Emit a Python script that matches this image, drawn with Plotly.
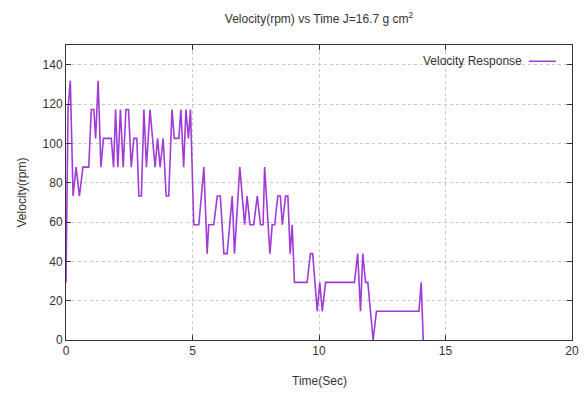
import plotly.graph_objects as go

time_s = [0.00, 0.08, 0.17, 0.28, 0.40, 0.53, 0.67, 0.90, 1.00, 1.10,
          1.17, 1.27, 1.38, 1.48, 1.79, 1.88, 1.96, 2.05, 2.15, 2.26,
          2.37, 2.47, 2.58, 2.68, 2.80, 2.88, 2.98, 3.08, 3.18, 3.32,
          3.52, 3.62, 3.72, 3.84, 3.96, 4.06, 4.19, 4.28, 4.46, 4.54,
          4.65, 4.74, 4.84, 4.92, 5.05, 5.25, 5.45, 5.58, 5.64, 5.84,
          5.98, 6.10, 6.24, 6.37, 6.57, 6.66, 6.87, 7.06, 7.16, 7.27,
          7.42, 7.56, 7.69, 7.79, 7.85, 8.06, 8.15, 8.25, 8.37, 8.47,
          8.55, 8.68, 8.77, 8.86, 8.94, 9.03, 9.53, 9.66, 9.75, 9.93,
          10.03, 10.13, 10.26, 11.40, 11.53, 11.64, 11.73, 11.84, 11.93, 12.14,
          12.27, 13.95, 14.04, 14.12]
velocity_rpm = [29.3, 117.2, 131.8, 73.2, 87.9, 73.2, 87.9, 87.9, 117.2, 117.2,
                102.5, 131.8, 87.9, 102.5, 102.5, 87.9, 117.2, 87.9, 117.2, 87.9,
                117.2, 117.2, 87.9, 102.5, 102.5, 73.2, 73.2, 117.2, 87.9, 117.2,
                87.9, 102.5, 87.9, 102.5, 73.2, 73.2, 117.2, 102.5, 102.5, 117.2,
                87.9, 117.2, 102.5, 117.2, 58.6, 58.6, 87.9, 43.9, 58.6, 58.6,
                73.2, 73.2, 43.9, 43.9, 73.2, 43.9, 87.9, 58.6, 73.2, 58.6,
                58.6, 73.2, 58.6, 58.6, 87.9, 43.9, 58.6, 58.6, 73.2, 73.2,
                58.6, 73.2, 73.2, 43.9, 58.6, 29.3, 29.3, 43.9, 43.9, 14.6,
                29.3, 14.6, 29.3, 29.3, 43.9, 14.6, 43.9, 29.3, 29.3, 0.0,
                14.6, 14.6, 29.3, 0.0]

x_ticks = [0, 5, 10, 15, 20]
y_ticks = [0, 20, 40, 60, 80, 100, 120, 140]

LINE_COLOR = "#a03cd6"
FONT = "Liberation Sans"
TEXT_COLOR = "#333333"

fig = go.Figure()
fig.add_trace(go.Scatter(x=time_s, y=velocity_rpm, mode="lines",
                         line=dict(color=LINE_COLOR, width=1.6),
                         name="Velocity Response", showlegend=False))

axis_common = dict(showline=True, linecolor="#333333", linewidth=1, mirror="ticks",
                   ticks="inside", ticklen=5, tickcolor="#333333",
                   showgrid=True, gridcolor="#c8c8c8", griddash="dot", gridwidth=1,
                   zeroline=False, automargin=False,
                   tickfont=dict(family=FONT, size=12, color=TEXT_COLOR))

fig.update_xaxes(range=[0, 20], tickvals=x_ticks, ticktext=[str(v) for v in x_ticks], **axis_common)
fig.update_yaxes(range=[0, 150], tickvals=y_ticks, ticktext=[str(v) for v in y_ticks], **axis_common)

fig.update_layout(
    width=584, height=394,
    margin=dict(l=66, r=12, t=45, b=54),
    paper_bgcolor="white", plot_bgcolor="white",
    title=dict(text="Velocity(rpm) vs Time J=16.7 g cm<sup>2</sup>",
               font=dict(family=FONT, size=12, color=TEXT_COLOR),
               x=0.5, xref="paper", xanchor="center", y=0.952, yanchor="middle"),
)

# axis titles placed like the gnuplot original
fig.add_annotation(text="Time(Sec)", xref="paper", yref="paper", x=0.5, y=-0.139,
                   xanchor="center", yanchor="middle", showarrow=False,
                   font=dict(family=FONT, size=12, color=TEXT_COLOR))
fig.add_annotation(text="Velocity(rpm)", xref="paper", yref="paper", x=-0.087, y=0.5,
                   xanchor="center", yanchor="middle", textangle=-90, showarrow=False,
                   font=dict(family=FONT, size=12, color=TEXT_COLOR))

# gnuplot-style key: label followed by line sample
fig.add_annotation(text="Velocity Response", xref="paper", yref="paper",
                   x=0.905, y=0.945, xanchor="right", yanchor="middle", showarrow=False,
                   font=dict(family=FONT, size=12, color=TEXT_COLOR))
fig.add_shape(type="line", xref="paper", yref="paper", x0=0.915, x1=0.968, y0=0.945, y1=0.945,
              line=dict(color=LINE_COLOR, width=1.5))

fig.write_html("out.html")
